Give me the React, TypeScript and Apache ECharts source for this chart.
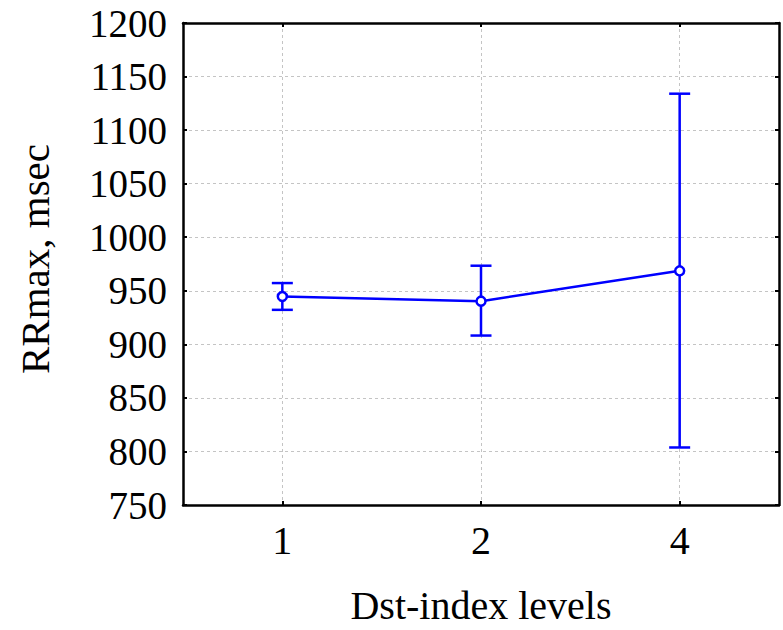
import React, { useEffect, useRef } from "react";
import * as echarts from "echarts";

const categories = ["1", "2", "4"];
const means = [944.7, 940.3, 968.6];
const lowers = [932.2, 908.2, 803.7];
const uppers = [957.2, 973.4, 1134];

const FONT = "'Liberation Serif', 'Times New Roman', serif";
const BLUE = "#0000ff";

export default function App() {
  const ref = useRef<HTMLDivElement>(null);
  useEffect(() => {
    if (!ref.current) return;
    const chart = echarts.init(ref.current, null, { renderer: "svg" });
    const errData = categories.map((c, i) => [i, lowers[i], uppers[i]]);
    const yCommon = {
      type: "value",
      min: 750,
      max: 1200,
      interval: 50,
      axisLine: { show: true, lineStyle: { color: "#000", width: 2.5 } },
      axisTick: { show: true, inside: true, length: 4, lineStyle: { color: "#000", width: 2 } },
    };
    const xCommon = {
      type: "category",
      data: categories,
      boundaryGap: true,
      axisLine: { show: true, lineStyle: { color: "#000", width: 2.5 } },
      axisTick: { show: true, inside: true, length: 4, alignWithLabel: true, lineStyle: { color: "#000", width: 2 } },
    };
    chart.setOption({
      animation: false,
      backgroundColor: "#fff",
      grid: { left: 183, right: 4, top: 23, bottom: 119, show: false },
      xAxis: [
        {
          ...xCommon,
          position: "bottom",
          name: "Dst-index levels",
          nameLocation: "middle",
          nameGap: 80,
          nameTextStyle: { fontFamily: FONT, fontSize: 40, color: "#000" },
          axisLabel: { fontFamily: FONT, fontSize: 40, color: "#000", margin: 15 },
          splitLine: {
            show: true,
            alignWithLabel: true,
            lineStyle: { color: "#c4c4c4", type: [3, 3], width: 1 },
          },
        },
        {
          ...xCommon,
          position: "top",
          axisLabel: { show: false },
          splitLine: { show: false },
        },
      ],
      yAxis: [
        {
          ...yCommon,
          position: "left",
          name: "RRmax, msec",
          nameLocation: "middle",
          nameGap: 128,
          nameTextStyle: { fontFamily: FONT, fontSize: 41, color: "#000", padding: [0, 0, 0, 10] },
          axisLabel: {
            fontFamily: FONT,
            fontSize: 39,
            color: "#000",
            margin: 16,
            formatter: (v: number) => String(v),
          },
          splitLine: { show: true, lineStyle: { color: "#c4c4c4", type: [3, 3], width: 1 } },
        },
        {
          ...yCommon,
          position: "right",
          axisLabel: { show: false },
          splitLine: { show: false },
        },
      ],
      series: [
        {
          type: "custom",
          xAxisIndex: 0,
          yAxisIndex: 0,
          z: 2,
          data: errData,
          renderItem: (params: any, api: any) => {
            const x = api.value(0);
            const lo = api.coord([x, api.value(1)]);
            const hi = api.coord([x, api.value(2)]);
            const hw = 10.5;
            const style = { stroke: BLUE, lineWidth: 2.5, fill: "none" };
            return {
              type: "group",
              children: [
                { type: "line", shape: { x1: lo[0], y1: lo[1], x2: hi[0], y2: hi[1] }, style },
                { type: "line", shape: { x1: hi[0] - hw, y1: hi[1], x2: hi[0] + hw, y2: hi[1] }, style },
                { type: "line", shape: { x1: lo[0] - hw, y1: lo[1], x2: lo[0] + hw, y2: lo[1] }, style },
              ],
            };
          },
        },
        {
          type: "line",
          xAxisIndex: 0,
          yAxisIndex: 0,
          z: 3,
          data: means,
          symbol: "circle",
          symbolSize: 9,
          showSymbol: true,
          lineStyle: { color: BLUE, width: 2.5 },
          itemStyle: { color: "#fff", borderColor: BLUE, borderWidth: 2.5 },
        },
      ],
    });
    return () => chart.dispose();
  }, []);
  return (
    <div
      ref={ref}
      style={{ position: "fixed", left: 0, top: 0, width: 783, height: 630 }}
    />
  );
}
